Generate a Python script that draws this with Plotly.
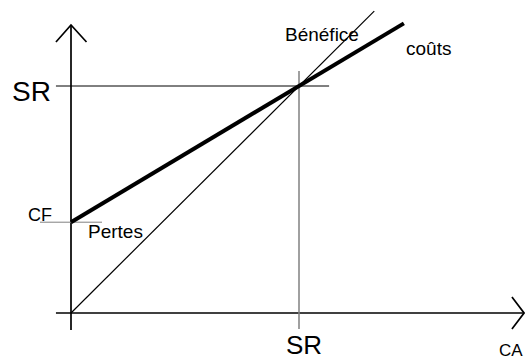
import plotly.graph_objects as go

# Conceptual data (break-even chart)
SR = 100          # seuil de rentabilité
CF = 40           # charges fixes
ca_x = [0, 133]           # chiffre d'affaires line (y = x)
ca_y = [0, 133]
couts_x = [0, 146]        # coûts = CF + 0.6 * CA
couts_y = [CF, CF + 0.6 * 146]

FONT = "Liberation Sans, Arial, sans-serif"
fig = go.Figure()

def seg(xs, ys, color="black", width=1.5):
    fig.add_trace(go.Scatter(x=xs, y=ys, mode="lines",
                             line=dict(color=color, width=width),
                             hoverinfo="skip", showlegend=False))

# axes with open arrowheads
seg([0, 0], [-7.5, 126.9], width=1.7)
seg([-6.6, 0, 6.8], [119.4, 126.9, 119.4], width=1.7)
seg([-6.6, 198.7], [0, 0], width=1.7)
seg([193.4, 198.7, 193.4], [7.0, 0, -7.0], width=1.7)

# reference lines
seg([-6.6, 113.2], [SR, SR], width=1)
seg([SR, SR], [-7.0, 106.6], color="#808080", width=1.5)
seg([-13.6, 13.6], [CF, CF], color="#808080", width=1)

# CA line and cost line
seg(ca_x, ca_y, width=1.2)
seg(couts_x, couts_y, width=4)

def label(txt, x, y, size):
    fig.add_annotation(x=x, y=y, text=txt, showarrow=False, xanchor="center",
                       yanchor="middle", borderpad=0,
                       font=dict(family=FONT, size=size, color="black"))

label("SR", -17.3, 97.6, 28)
label("SR", 102, -14.0, 26)
label("CA", 192.8, -16.4, 17)
label("CF", -13.6, 43.2, 18)
label("Pertes", 19.7, 36.1, 19)
label("Bénéfice", 110.3, 122.9, 19)
label("coûts", 157, 116.7, 19)

fig.update_layout(width=525, height=362, margin=dict(l=0, r=0, t=0, b=0),
                  paper_bgcolor="white", plot_bgcolor="white",
                  xaxis=dict(range=[-71 / 2.28, (525 - 71) / 2.28], visible=False, fixedrange=True),
                  yaxis=dict(range=[-49 / 2.27, 313 / 2.27], visible=False, fixedrange=True))

fig.write_html("out.html", config={"staticPlot": True},
               post_script="document.body.style.margin='0px';document.body.style.overflow='hidden';")
